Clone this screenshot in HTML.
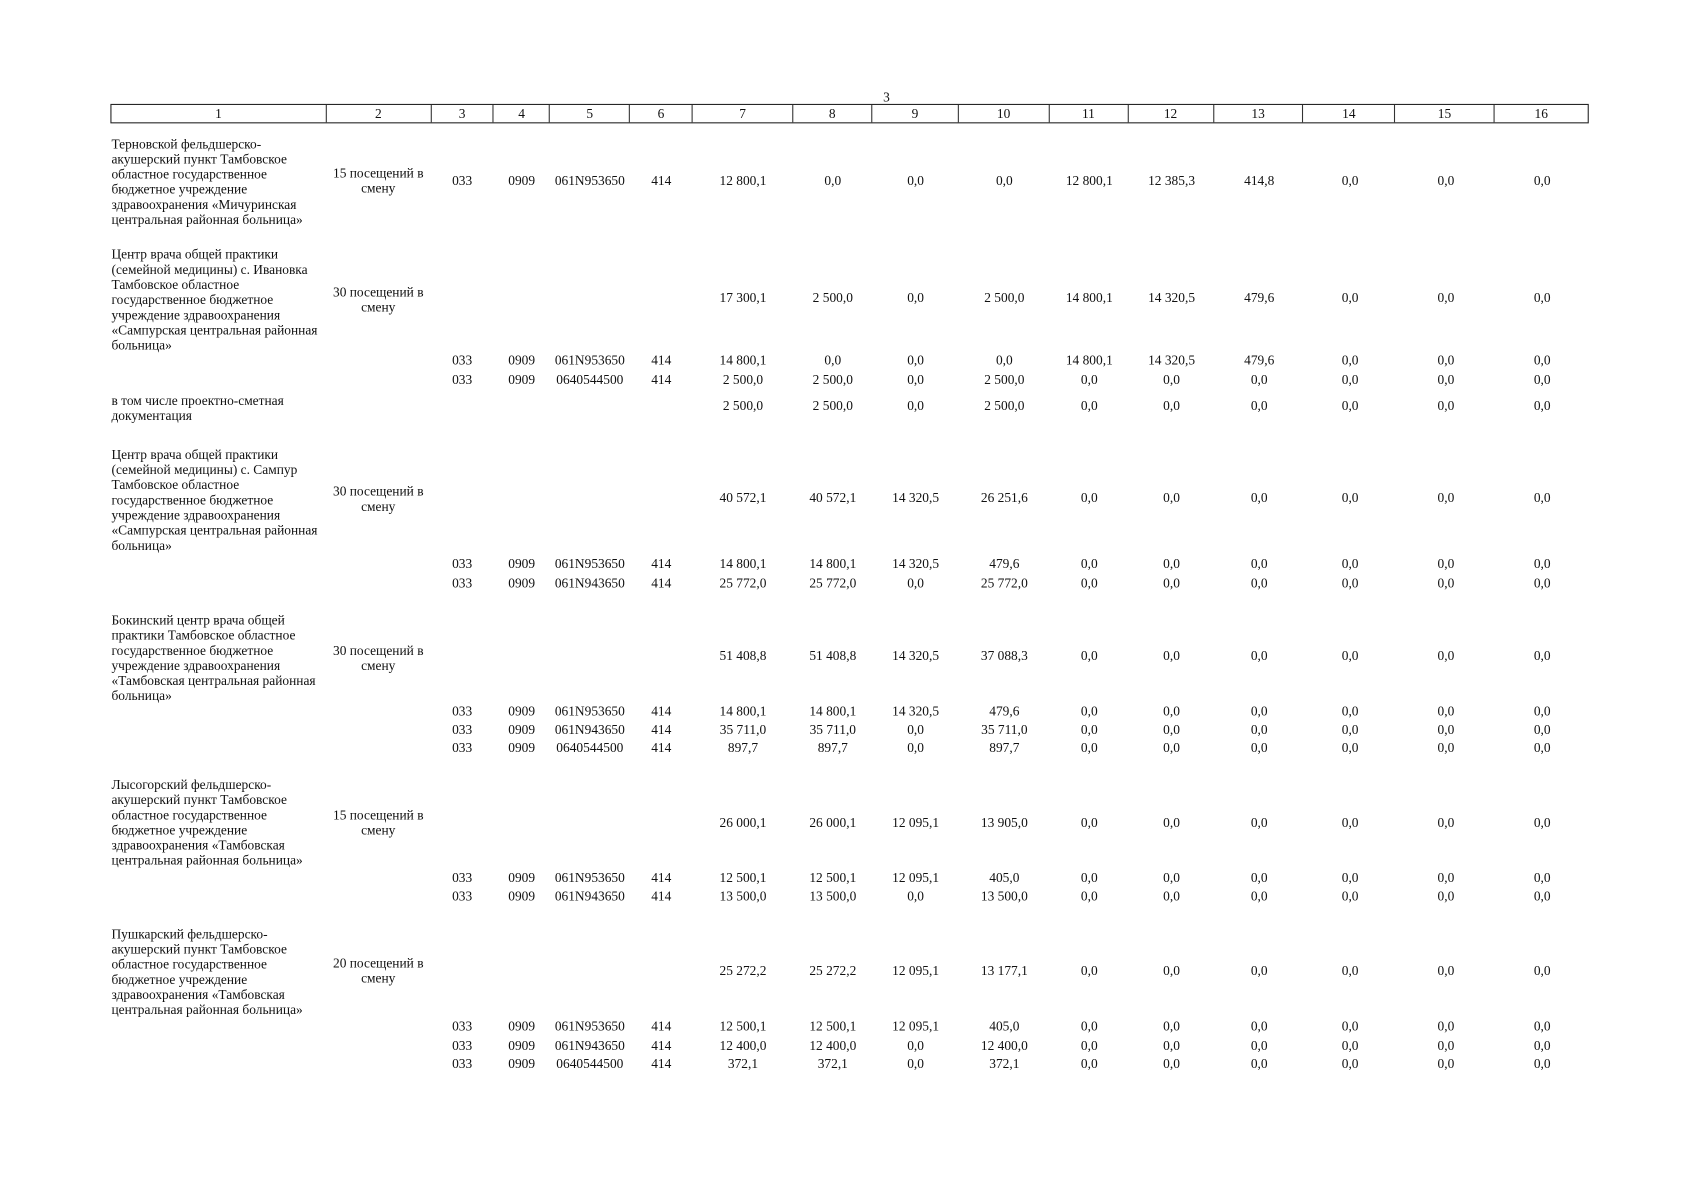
<!DOCTYPE html>
<html><head><meta charset="utf-8"><style>
html,body{margin:0;padding:0;background:#fff;}
body{width:1697px;height:1200px;overflow:hidden;position:relative;}
#w{position:absolute;left:0;top:0;width:1568px;height:1109px;transform:scale(1.08227);transform-origin:0 0;font-family:"Liberation Serif","Noto Serif CJK SC",serif;font-size:12.4px;color:#111;}
.hdr{position:absolute;left:102px;top:96px;height:18px;display:flex;border:1px solid #222;box-sizing:border-box;width:1366px;}
.hdr span{border-right:1px solid #333;text-align:center;line-height:16px;box-sizing:border-box;}
.hdr span:last-child{border-right:none;}
.t1{position:absolute;left:103px;width:210px;line-height:14px;white-space:nowrap;}
.t2{position:absolute;left:301px;width:97px;text-align:center;line-height:14px;}
.r{position:absolute;left:398px;display:flex;line-height:14px;height:14px;}
.r span{text-align:center;display:block;}
.a{width:58px}.b{width:52px}.c{width:74px}.d{width:58px}.e{width:93px}.f{width:73px}.g{width:80px}.h{width:84px}.i{width:73px}.j{width:79px}.k{width:83px}.l{width:85px}.m{width:92px}.n{width:86px}
</style></head><body><div id="w">
<div style="position:absolute;left:816px;top:83px;">3</div>
<div class="hdr"><span style="width:199px">1</span><span style="width:97px">2</span><span style="width:58px">3</span><span style="width:52px">4</span><span style="width:74px">5</span><span style="width:58px">6</span><span style="width:93px">7</span><span style="width:73px">8</span><span style="width:80px">9</span><span style="width:84px">10</span><span style="width:73px">11</span><span style="width:79px">12</span><span style="width:83px">13</span><span style="width:85px">14</span><span style="width:92px">15</span><span style="width:86px">16</span></div>

<div class="t1" style="top:126px">Терновской фельдшерско-<br>акушерский пункт Тамбовское<br>областное государственное<br>бюджетное учреждение<br>здравоохранения «Мичуринская<br>центральная районная больница»</div>
<div class="t2" style="top:153px">15 посещений в<br>смену</div>
<div class="r" style="top:160px"><span class="a">033</span><span class="b">0909</span><span class="c">061N953650</span><span class="d">414</span><span class="e">12 800,1</span><span class="f">0,0</span><span class="g">0,0</span><span class="h">0,0</span><span class="i">12 800,1</span><span class="j">12 385,3</span><span class="k">414,8</span><span class="l">0,0</span><span class="m">0,0</span><span class="n">0,0</span></div>

<div class="t1" style="top:228px">Центр врача общей практики<br>(семейной медицины) с. Ивановка<br>Тамбовское областное<br>государственное бюджетное<br>учреждение здравоохранения<br>«Сампурская центральная районная<br>больница»</div>
<div class="t2" style="top:263px">30 посещений в<br>смену</div>
<div class="r" style="top:268px"><span class="a"></span><span class="b"></span><span class="c"></span><span class="d"></span><span class="e">17 300,1</span><span class="f">2 500,0</span><span class="g">0,0</span><span class="h">2 500,0</span><span class="i">14 800,1</span><span class="j">14 320,5</span><span class="k">479,6</span><span class="l">0,0</span><span class="m">0,0</span><span class="n">0,0</span></div>
<div class="r" style="top:326px"><span class="a">033</span><span class="b">0909</span><span class="c">061N953650</span><span class="d">414</span><span class="e">14 800,1</span><span class="f">0,0</span><span class="g">0,0</span><span class="h">0,0</span><span class="i">14 800,1</span><span class="j">14 320,5</span><span class="k">479,6</span><span class="l">0,0</span><span class="m">0,0</span><span class="n">0,0</span></div>
<div class="r" style="top:344px"><span class="a">033</span><span class="b">0909</span><span class="c">0640544500</span><span class="d">414</span><span class="e">2 500,0</span><span class="f">2 500,0</span><span class="g">0,0</span><span class="h">2 500,0</span><span class="i">0,0</span><span class="j">0,0</span><span class="k">0,0</span><span class="l">0,0</span><span class="m">0,0</span><span class="n">0,0</span></div>
<div class="t1" style="top:363px">в том числе проектно-сметная<br>документация</div>
<div class="r" style="top:368px"><span class="a"></span><span class="b"></span><span class="c"></span><span class="d"></span><span class="e">2 500,0</span><span class="f">2 500,0</span><span class="g">0,0</span><span class="h">2 500,0</span><span class="i">0,0</span><span class="j">0,0</span><span class="k">0,0</span><span class="l">0,0</span><span class="m">0,0</span><span class="n">0,0</span></div>

<div class="t1" style="top:413px">Центр врача общей практики<br>(семейной медицины) с. Сампур<br>Тамбовское областное<br>государственное бюджетное<br>учреждение здравоохранения<br>«Сампурская центральная районная<br>больница»</div>
<div class="t2" style="top:447px">30 посещений в<br>смену</div>
<div class="r" style="top:453px"><span class="a"></span><span class="b"></span><span class="c"></span><span class="d"></span><span class="e">40 572,1</span><span class="f">40 572,1</span><span class="g">14 320,5</span><span class="h">26 251,6</span><span class="i">0,0</span><span class="j">0,0</span><span class="k">0,0</span><span class="l">0,0</span><span class="m">0,0</span><span class="n">0,0</span></div>
<div class="r" style="top:514px"><span class="a">033</span><span class="b">0909</span><span class="c">061N953650</span><span class="d">414</span><span class="e">14 800,1</span><span class="f">14 800,1</span><span class="g">14 320,5</span><span class="h">479,6</span><span class="i">0,0</span><span class="j">0,0</span><span class="k">0,0</span><span class="l">0,0</span><span class="m">0,0</span><span class="n">0,0</span></div>
<div class="r" style="top:532px"><span class="a">033</span><span class="b">0909</span><span class="c">061N943650</span><span class="d">414</span><span class="e">25 772,0</span><span class="f">25 772,0</span><span class="g">0,0</span><span class="h">25 772,0</span><span class="i">0,0</span><span class="j">0,0</span><span class="k">0,0</span><span class="l">0,0</span><span class="m">0,0</span><span class="n">0,0</span></div>

<div class="t1" style="top:566px">Бокинский центр врача общей<br>практики Тамбовское областное<br>государственное бюджетное<br>учреждение здравоохранения<br>«Тамбовская центральная районная<br>больница»</div>
<div class="t2" style="top:594px">30 посещений в<br>смену</div>
<div class="r" style="top:599px"><span class="a"></span><span class="b"></span><span class="c"></span><span class="d"></span><span class="e">51 408,8</span><span class="f">51 408,8</span><span class="g">14 320,5</span><span class="h">37 088,3</span><span class="i">0,0</span><span class="j">0,0</span><span class="k">0,0</span><span class="l">0,0</span><span class="m">0,0</span><span class="n">0,0</span></div>
<div class="r" style="top:650px"><span class="a">033</span><span class="b">0909</span><span class="c">061N953650</span><span class="d">414</span><span class="e">14 800,1</span><span class="f">14 800,1</span><span class="g">14 320,5</span><span class="h">479,6</span><span class="i">0,0</span><span class="j">0,0</span><span class="k">0,0</span><span class="l">0,0</span><span class="m">0,0</span><span class="n">0,0</span></div>
<div class="r" style="top:667px"><span class="a">033</span><span class="b">0909</span><span class="c">061N943650</span><span class="d">414</span><span class="e">35 711,0</span><span class="f">35 711,0</span><span class="g">0,0</span><span class="h">35 711,0</span><span class="i">0,0</span><span class="j">0,0</span><span class="k">0,0</span><span class="l">0,0</span><span class="m">0,0</span><span class="n">0,0</span></div>
<div class="r" style="top:684px"><span class="a">033</span><span class="b">0909</span><span class="c">0640544500</span><span class="d">414</span><span class="e">897,7</span><span class="f">897,7</span><span class="g">0,0</span><span class="h">897,7</span><span class="i">0,0</span><span class="j">0,0</span><span class="k">0,0</span><span class="l">0,0</span><span class="m">0,0</span><span class="n">0,0</span></div>

<div class="t1" style="top:718px">Лысогорский фельдшерско-<br>акушерский пункт Тамбовское<br>областное государственное<br>бюджетное учреждение<br>здравоохранения «Тамбовская<br>центральная районная больница»</div>
<div class="t2" style="top:746px">15 посещений в<br>смену</div>
<div class="r" style="top:753px"><span class="a"></span><span class="b"></span><span class="c"></span><span class="d"></span><span class="e">26 000,1</span><span class="f">26 000,1</span><span class="g">12 095,1</span><span class="h">13 905,0</span><span class="i">0,0</span><span class="j">0,0</span><span class="k">0,0</span><span class="l">0,0</span><span class="m">0,0</span><span class="n">0,0</span></div>
<div class="r" style="top:804px"><span class="a">033</span><span class="b">0909</span><span class="c">061N953650</span><span class="d">414</span><span class="e">12 500,1</span><span class="f">12 500,1</span><span class="g">12 095,1</span><span class="h">405,0</span><span class="i">0,0</span><span class="j">0,0</span><span class="k">0,0</span><span class="l">0,0</span><span class="m">0,0</span><span class="n">0,0</span></div>
<div class="r" style="top:821px"><span class="a">033</span><span class="b">0909</span><span class="c">061N943650</span><span class="d">414</span><span class="e">13 500,0</span><span class="f">13 500,0</span><span class="g">0,0</span><span class="h">13 500,0</span><span class="i">0,0</span><span class="j">0,0</span><span class="k">0,0</span><span class="l">0,0</span><span class="m">0,0</span><span class="n">0,0</span></div>

<div class="t1" style="top:856px">Пушкарский фельдшерско-<br>акушерский пункт Тамбовское<br>областное государственное<br>бюджетное учреждение<br>здравоохранения «Тамбовская<br>центральная районная больница»</div>
<div class="t2" style="top:883px">20 посещений в<br>смену</div>
<div class="r" style="top:890px"><span class="a"></span><span class="b"></span><span class="c"></span><span class="d"></span><span class="e">25 272,2</span><span class="f">25 272,2</span><span class="g">12 095,1</span><span class="h">13 177,1</span><span class="i">0,0</span><span class="j">0,0</span><span class="k">0,0</span><span class="l">0,0</span><span class="m">0,0</span><span class="n">0,0</span></div>
<div class="r" style="top:941px"><span class="a">033</span><span class="b">0909</span><span class="c">061N953650</span><span class="d">414</span><span class="e">12 500,1</span><span class="f">12 500,1</span><span class="g">12 095,1</span><span class="h">405,0</span><span class="i">0,0</span><span class="j">0,0</span><span class="k">0,0</span><span class="l">0,0</span><span class="m">0,0</span><span class="n">0,0</span></div>
<div class="r" style="top:959px"><span class="a">033</span><span class="b">0909</span><span class="c">061N943650</span><span class="d">414</span><span class="e">12 400,0</span><span class="f">12 400,0</span><span class="g">0,0</span><span class="h">12 400,0</span><span class="i">0,0</span><span class="j">0,0</span><span class="k">0,0</span><span class="l">0,0</span><span class="m">0,0</span><span class="n">0,0</span></div>
<div class="r" style="top:976px"><span class="a">033</span><span class="b">0909</span><span class="c">0640544500</span><span class="d">414</span><span class="e">372,1</span><span class="f">372,1</span><span class="g">0,0</span><span class="h">372,1</span><span class="i">0,0</span><span class="j">0,0</span><span class="k">0,0</span><span class="l">0,0</span><span class="m">0,0</span><span class="n">0,0</span></div>
</div></body></html>
